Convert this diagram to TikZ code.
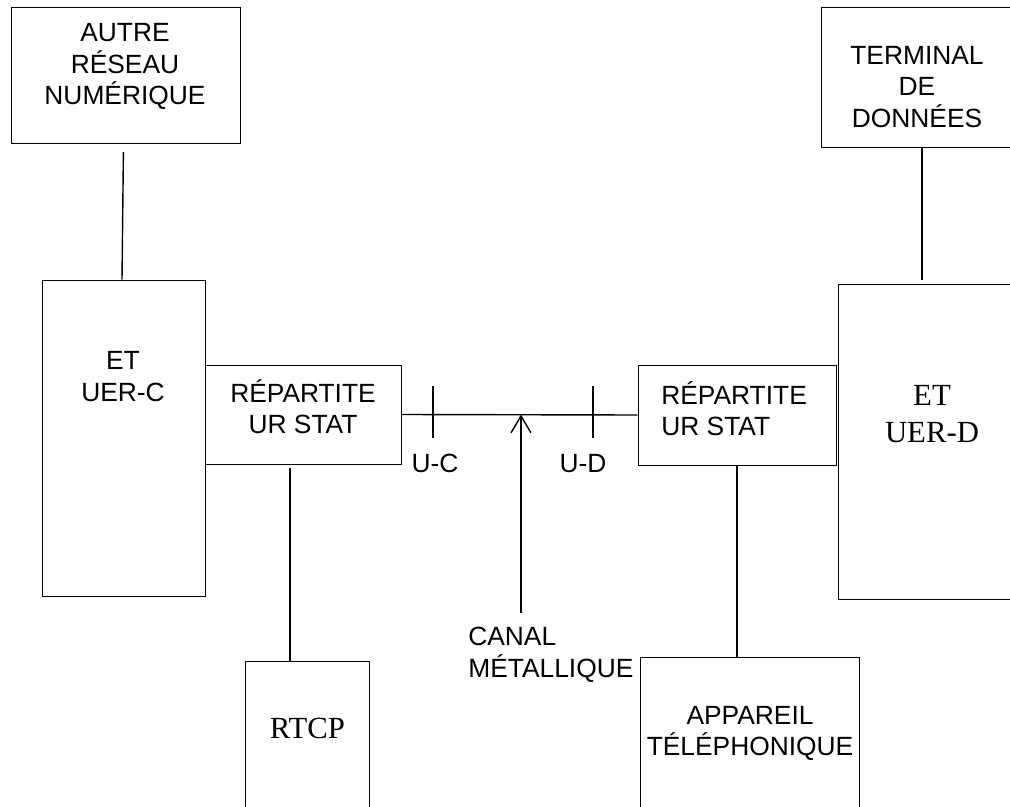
\documentclass[tikz,border=0pt]{standalone}
\usepackage{fontspec}
\usepackage{tikz}
\usetikzlibrary{arrows.meta}
\newfontfamily\arialfont{Liberation Sans}
\newfontfamily\romanfont{Liberation Serif}

\tikzset{
  blk/.style={draw, line width=0.5pt, inner sep=0pt},
  txt/.style={font=\arialfont\fontsize{15}{17.9}\selectfont, align=center, inner sep=0pt},
  rtxt/.style={font=\romanfont\fontsize{17.5}{21.5}\selectfont, align=center, inner sep=0pt},
  link/.style={line width=0.8pt}
}

\begin{document}
\begin{tikzpicture}[x=0.02cm, y=-0.02cm]
      \useasboundingbox (0,0) rectangle (1010,807);
      \clip (0,0) rectangle (1010,807);
      % boxes
      \node [blk, minimum width=4.58cm, minimum height=2.72cm] (autre) at (125.5,75) {};
      \node [blk, minimum width=3.26cm, minimum height=6.32cm] (etc) at (123.5,438) {};
      \node [blk, minimum width=3.92cm, minimum height=1.98cm] (rep1) at (303,414.5) {};
      \node [blk, minimum width=2.48cm, minimum height=3.38cm] (rtcp) at (307,745.5) {};
      \node [blk, minimum width=3.96cm, minimum height=2.00cm] (rep2) at (737,415) {};
      \node [blk, minimum width=3.76cm, minimum height=6.30cm] (etd) at (932,441.5) {};
      \node [blk, minimum width=3.84cm, minimum height=2.80cm] (term) at (917,77) {};
      \node [blk, minimum width=4.38cm, minimum height=3.46cm] (app) at (749.5,743.5) {};
      % texts
      \node [txt] (autre-t) at (125,66.5) {AUTRE\\RÉSEAU\\NUMÉRIQUE};
      \node [txt] (etc-t) at (123,376.5) {ET\\UER-C};
      \node [txt] (rep1-t) at (303,406.5) {RÉPARTITE\\UR STAT};
      \node [txt, align=left, anchor=west] (rep2-t) at (661,408.5) {RÉPARTITE\\UR STAT};
      \node [rtxt] (etd-t) at (932,414) {ET\\UER-D};
      \node [rtxt] (rtcp-t) at (307.5,728) {RTCP};
      \node [txt] (app-t) at (750,733.5) {APPAREIL\\TÉLÉPHONIQUE};
      \node [txt] (term-t) at (917,87) {TERMINAL\\DE\\DONNÉES};
      \node [txt, align=left, anchor=north west] (canal-t) at (468,627) {CANAL\\MÉTALLIQUE};
      \node [txt] (uc) at (435,463.5) {U-C};
      \node [txt] (ud) at (583,463.5) {U-D};
      % connectors
      \draw [link, shorten <=5pt] (etc.north |- autre.south) to ([xshift=-0.03cm]etc.north);
      \draw [link] ([xshift=0.1cm]term.south) to ([xshift=0.1cm,yshift=0.08cm]term.south |- etd.north);
      \draw [link, shorten <=2pt] ([xshift=-0.26cm]rep1.south) to ([xshift=-0.26cm]rep1.south |- rtcp.north);
      \draw [link] (rep2.south) to (rep2.south |- app.north);
      \draw [link] (rep1.east) to (rep2.west);
      \draw [link] (433,386) to (433,438);
      \draw [link] (593,386) to (593,438);
      \coordinate (canal) at (521,613);
      \draw [link, -{Straight Barb[length=9.6pt,width=11.3pt]}] (canal) to (canal |- rep1.east);
    \end{tikzpicture}
\end{document}
